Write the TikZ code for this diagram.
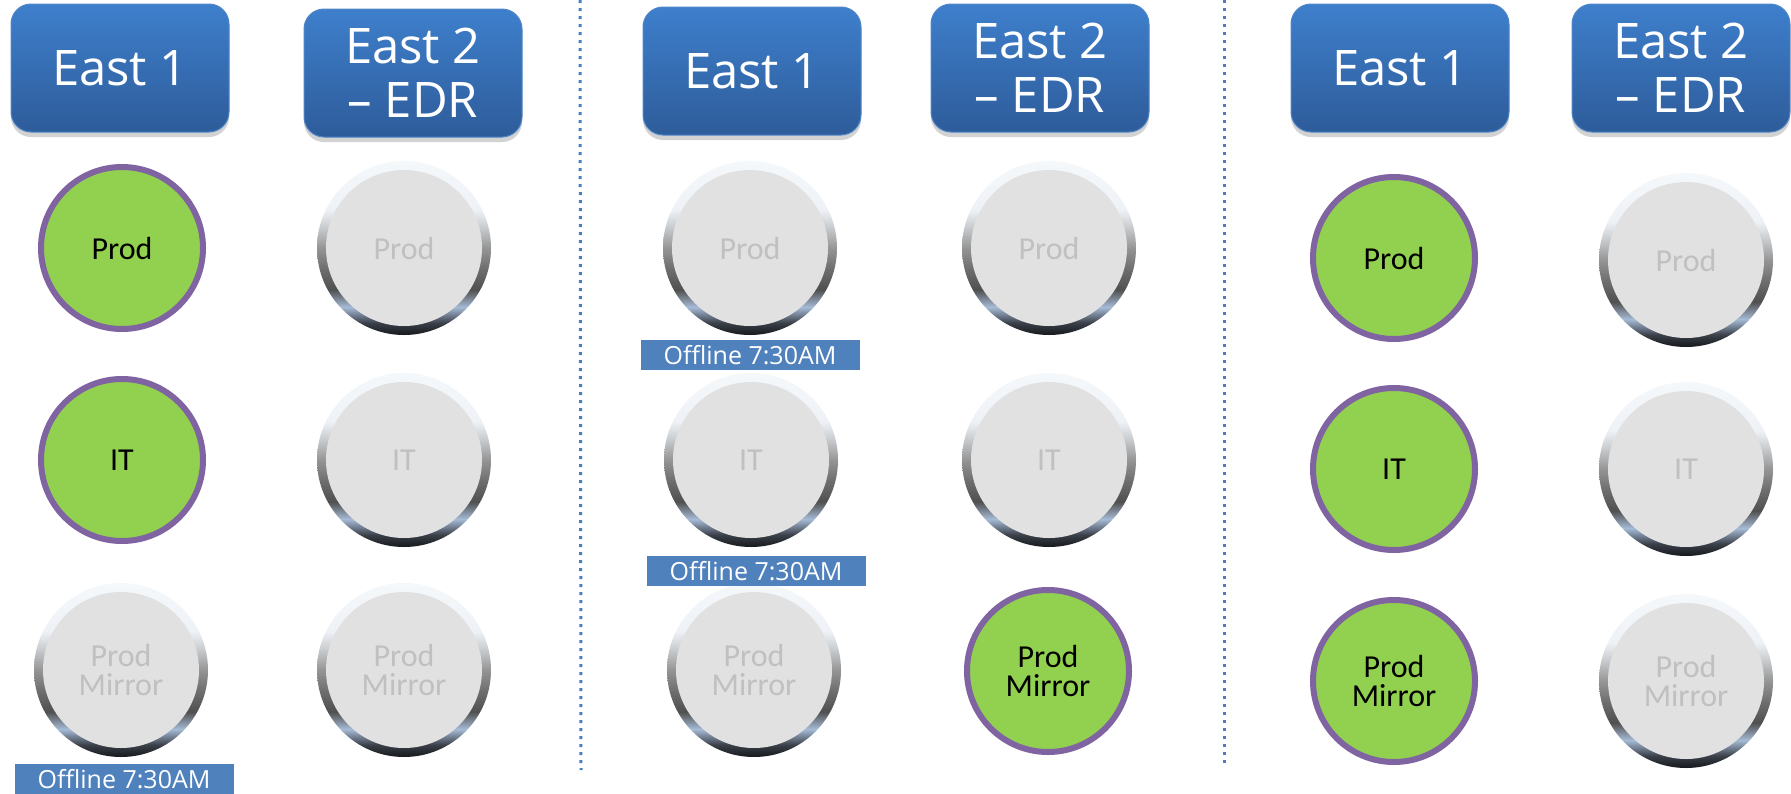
\documentclass[tikz,border=0pt]{standalone}
\usepackage{fontspec}
\setmainfont{Open Sans}
\newfontfamily\circfont{Carlito}
\usetikzlibrary{shadows}
\definecolor{hdrtop}{HTML}{3E7FCC}
\definecolor{hdrbot}{HTML}{2E5C9A}
\definecolor{hdredge}{HTML}{4F86C8}
\definecolor{ongreen}{HTML}{92D050}
\definecolor{onpurple}{HTML}{8064A2}
\definecolor{diskgray}{HTML}{E1E1E1}
\definecolor{offtext}{HTML}{C0C0C0}
\definecolor{offbox}{HTML}{4F81BD}
\definecolor{divblue}{HTML}{4A7EC2}
\definecolor{ringA}{HTML}{16191D}
\definecolor{ringB}{HTML}{3B4049}
\definecolor{ringC}{HTML}{A6BBD6}
\definecolor{ringD}{HTML}{505050}
\definecolor{ringE}{HTML}{6E6E6E}
\definecolor{ringF}{HTML}{959595}
\definecolor{ringG}{HTML}{C9CCCF}
\definecolor{ringH}{HTML}{EEF2F6}
\definecolor{ringI}{HTML}{F5F8FB}
\pgfdeclareverticalshading{ringshade}{100bp}{color(0bp)=(ringA); color(25bp)=(ringA); color(28.5bp)=(ringB); color(33bp)=(ringC); color(38bp)=(ringD); color(44bp)=(ringE); color(50bp)=(ringF); color(56bp)=(ringG); color(61bp)=(ringH); color(75bp)=(ringI); color(100bp)=(ringI)}
\begin{document}
\begin{tikzpicture}[x=1pt,y=-1pt,
  hdr/.style={rectangle, rounded corners=20pt, minimum width=218pt, minimum height=128pt,
    top color=hdrtop, bottom color=hdrbot, draw=hdredge, line width=1pt,
    text=white, align=center, font=\fontsize{49}{56}\selectfont, inner sep=0pt,
    drop shadow={shadow xshift=0pt, shadow yshift=-5pt, opacity=0.25, fill=black!70}},
  oncirc/.style={circle, minimum size=162pt, inner sep=0pt, fill=ongreen, draw=onpurple,
    line width=6pt, text=black, align=center, font=\circfont\fontsize{32}{29}\selectfont},
  offcirc/.style={circle, minimum size=174pt, inner sep=0pt, shade, shading=ringshade,
    path picture={\fill[diskgray] (path picture bounding box.center) circle (78pt);},
    text=offtext, align=center, font=\circfont\fontsize{32}{29}\selectfont},
  offlbl/.style={rectangle, fill=offbox, text=white, minimum width=219pt, minimum height=30pt,
    inner sep=0pt, font=\fontsize{25}{25}\selectfont},
  divider/.style={draw=divblue, line width=3pt, dash pattern=on 3pt off 5pt}
]
\useasboundingbox (0,0) rectangle (1791,793);
% dividers
\coordinate (d1t) at (580,0);
\coordinate (d1b) at (581,770);
\coordinate (d2t) at (1224,0);
\coordinate (d2b) at (1224,765);
\draw[divider] (d1t) -- (d1b);
\draw[divider] (d2t) -- (d2b);
% panel 1
\node[hdr] (h1a) at (120,68) {East 1};
\node[hdr] (h1b) at (413,73) {East 2\\[-2pt]– EDR};
\node[oncirc] (p1a1) at (122,248) {Prod};
\node[oncirc] (p1a2) at (122,460) {IT};
\node[offcirc] (p1a3) at (121,670) {Prod\\Mirror};
\node[offcirc] (p1b1) at (404,248) {Prod};
\node[offcirc] (p1b2) at (404,460) {IT};
\node[offcirc] (p1b3) at (404,670) {Prod\\Mirror};
\node[offlbl] (o1) at (124,779) {Offline 7:30AM};
% panel 2
\node[hdr] (h2a) at (752,71) {East 1};
\node[hdr] (h2b) at (1040,68) {East 2\\[-2pt]– EDR};
\node[offcirc] (p2a1) at (750,248) {Prod};
\node[offcirc] (p2a2) at (751,460) {IT};
\node[offcirc] (p2a3) at (754,670) {Prod\\Mirror};
\node[offcirc] (p2b1) at (1049,248) {Prod};
\node[offcirc] (p2b2) at (1049,460) {IT};
\node[oncirc] (p2b3) at (1048,671) {Prod\\Mirror};
\node[offlbl] (o2) at (750,355) {Offline 7:30AM};
\node[offlbl] (o3) at (756,571) {Offline 7:30AM};
% panel 3
\node[hdr] (h3a) at (1400,68) {East 1};
\node[hdr] (h3b) at (1681,68) {East 2\\[-2pt]– EDR};
\node[oncirc] (p3a1) at (1394,258) {Prod};
\node[oncirc] (p3a2) at (1394,469) {IT};
\node[oncirc] (p3a3) at (1394,681) {Prod\\Mirror};
\node[offcirc] (p3b1) at (1686,260) {Prod};
\node[offcirc] (p3b2) at (1686,469) {IT};
\node[offcirc] (p3b3) at (1686,681) {Prod\\Mirror};
\end{tikzpicture}
\end{document}
